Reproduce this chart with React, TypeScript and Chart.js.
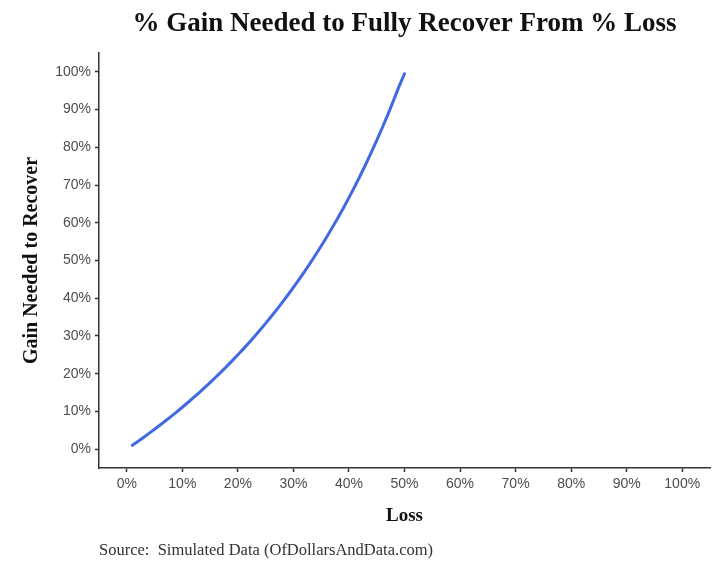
import React, { useEffect, useRef } from "react";
import { Chart, registerables } from "chart.js";

Chart.register(...registerables);

const TITLE = "% Gain Needed to Fully Recover From % Loss";
const X_TITLE = "Loss";
const Y_TITLE = "Gain Needed to Recover";
const SOURCE = "Source:  Simulated Data (OfDollarsAndData.com)";

// Loss (%) and gain needed to recover (%)
const lossPct = [
  1, 2, 3, 4, 5, 6, 7, 8, 9, 10, 11, 12, 13, 14, 15, 16, 17, 18, 19, 20, 21, 22, 23, 24, 25,
  26, 27, 28, 29, 30, 31, 32, 33, 34, 35, 36, 37, 38, 39, 40, 41, 42, 43, 44, 45, 46, 47, 48, 49, 50,
];
const gainPct = [
  1.01, 2.04, 3.09, 4.17, 5.26, 6.38, 7.53, 8.7, 9.89, 11.11, 12.36, 13.64, 14.94, 16.28, 17.65,
  19.05, 20.48, 21.95, 23.46, 25.0, 26.58, 28.21, 29.87, 31.58, 33.33, 35.14, 36.99, 38.89, 40.85,
  42.86, 44.93, 47.06, 49.25, 51.52, 53.85, 56.25, 58.73, 61.29, 63.93, 66.67, 69.49, 72.41, 75.44,
  78.57, 81.82, 85.19, 88.68, 92.31, 96.08, 99.5,
];
const tickValues = [0, 10, 20, 30, 40, 50, 60, 70, 80, 90, 100];

const sourcePlugin = {
  id: "sourceNote",
  afterDraw(chart: any) {
    const { ctx, chartArea } = chart;
    ctx.save();
    ctx.font = "16.5px 'Liberation Serif', serif";
    ctx.fillStyle = "#333333";
    ctx.textAlign = "left";
    ctx.textBaseline = "middle";
    ctx.fillText(SOURCE, chartArea.left, 551);
    ctx.restore();
  },
};

export default function App() {
  const ref = useRef<HTMLCanvasElement>(null);
  useEffect(() => {
    document.body.style.margin = "0";
    const canvas = ref.current!;
    const tickFont = { family: "'Liberation Sans', Arial, sans-serif", size: 14 };
    const setTicks = (axis: any) => {
      axis.ticks = tickValues.map((v) => ({ value: v }));
    };
    const chart = new Chart(canvas, {
      type: "line",
      data: {
        datasets: [
          {
            data: lossPct.map((x, i) => ({ x, y: gainPct[i] })),
            borderColor: "#4169E1",
            borderWidth: 3,
            pointRadius: 0,
            borderCapStyle: "round",
            tension: 0,
            fill: false,
          },
        ],
      },
      options: {
        responsive: false,
        animation: false,
        events: [],
        layout: { padding: { top: 0, left: 0, right: 11, bottom: 44.6 } },
        plugins: {
          legend: { display: false },
          tooltip: { enabled: false },
          title: {
            display: true,
            text: TITLE,
            fullSize: false,
            color: "#111111",
            font: { family: "'Liberation Serif', serif", size: 27, weight: "bold" },
            padding: { top: 7.5, bottom: 13.1 },
          },
        },
        scales: {
          x: {
            type: "linear",
            min: -5,
            max: 105,
            afterBuildTicks: setTicks,
            grid: { display: true, drawOnChartArea: false, drawTicks: true, tickLength: 4, tickColor: "#333333", tickWidth: 1.5 },
            border: { display: true, color: "#333333", width: 1.5 },
            ticks: { color: "#4d4d4d", font: tickFont, padding: 4, maxRotation: 0, callback: (v: any) => v + "%" },
            title: {
              display: true,
              text: X_TITLE,
              color: "#111111",
              font: { family: "'Liberation Serif', serif", size: 19, weight: "bold" },
              padding: { top: 7.8, bottom: 0 },
            },
          },
          y: {
            type: "linear",
            min: -5,
            max: 105,
            afterBuildTicks: setTicks,
            grid: { display: true, drawOnChartArea: false, drawTicks: true, tickLength: 4, tickColor: "#333333", tickWidth: 1.5 },
            border: { display: true, color: "#333333", width: 1.5 },
            ticks: { color: "#4d4d4d", font: tickFont, padding: 4, callback: (v: any) => v + "%" },
            title: {
              display: true,
              text: Y_TITLE,
              color: "#111111",
              font: { family: "'Liberation Serif', serif", size: 20, weight: "bold" },
              padding: { top: 20, bottom: 7.2 },
            },
          },
        },
      },
      plugins: [sourcePlugin],
    } as any);
    return () => chart.destroy();
  }, []);
  return (
    <div style={{ width: 721, height: 572, background: "#ffffff" }}>
      <canvas ref={ref} width={721} height={572} style={{ display: "block" }} />
    </div>
  );
}
